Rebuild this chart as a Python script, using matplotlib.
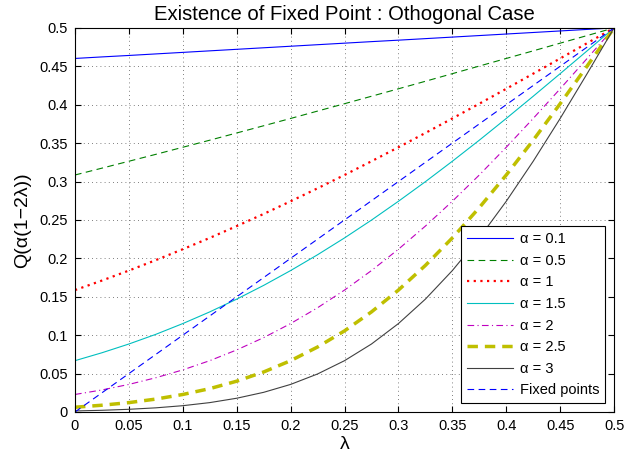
import numpy as np
import matplotlib
matplotlib.use("Agg")
import matplotlib.pyplot as plt

plt.rcParams['font.family'] = ['Liberation Sans', 'DejaVu Sans']

# lambda grid
lam = [0, 0.025, 0.05, 0.075, 0.1, 0.125, 0.15, 0.175, 0.2, 0.225, 0.25,
       0.275, 0.3, 0.325, 0.35, 0.375, 0.4, 0.425, 0.45, 0.475, 0.5]

# curve values
q_01 = [0.4602, 0.4622, 0.4641, 0.4661, 0.4681, 0.4701, 0.4721, 0.4741, 0.4761, 0.4781, 0.4801,
        0.4821, 0.4840, 0.4860, 0.4880, 0.4900, 0.4920, 0.4940, 0.4960, 0.4980, 0.5]
q_05 = [0.3085, 0.3174, 0.3264, 0.3354, 0.3446, 0.3538, 0.3632, 0.3726, 0.3821, 0.3917, 0.4013,
        0.4110, 0.4207, 0.4305, 0.4404, 0.4503, 0.4602, 0.4701, 0.4801, 0.4900, 0.5]
q_1 = [0.1587, 0.1711, 0.1841, 0.1977, 0.2119, 0.2266, 0.2420, 0.2578, 0.2743, 0.2912, 0.3085,
       0.3264, 0.3446, 0.3632, 0.3821, 0.4013, 0.4207, 0.4404, 0.4602, 0.4801, 0.5]
q_15 = [0.0668, 0.0771, 0.0885, 0.1011, 0.1151, 0.1303, 0.1469, 0.1648, 0.1841, 0.2047, 0.2266,
        0.2498, 0.2743, 0.2998, 0.3264, 0.3538, 0.3821, 0.4110, 0.4404, 0.4701, 0.5]
q_2 = [0.0228, 0.0287, 0.0359, 0.0446, 0.0548, 0.0668, 0.0808, 0.0968, 0.1151, 0.1357, 0.1587,
       0.1841, 0.2119, 0.2420, 0.2743, 0.3085, 0.3446, 0.3821, 0.4207, 0.4602, 0.5]
q_25 = [0.0062, 0.0088, 0.0122, 0.0168, 0.0228, 0.0304, 0.0401, 0.0521, 0.0668, 0.0846, 0.1056,
        0.1303, 0.1587, 0.1908, 0.2266, 0.2660, 0.3085, 0.3538, 0.4013, 0.4503, 0.5]
q_3 = [0.00135, 0.0022, 0.0035, 0.0054, 0.0082, 0.0122, 0.0179, 0.0256, 0.0359, 0.0495, 0.0668,
       0.0885, 0.1151, 0.1469, 0.1841, 0.2266, 0.2743, 0.3264, 0.3821, 0.4404, 0.5]

# fixed points line
fp_x = [0, 0.5]
fp_y = [0, 0.5]

tick_vals = [0, 0.05, 0.1, 0.15, 0.2, 0.25, 0.3, 0.35, 0.4, 0.45, 0.5]
tick_labels = ['0', '0.05', '0.1', '0.15', '0.2', '0.25', '0.3', '0.35', '0.4', '0.45', '0.5']

fig = plt.figure(figsize=(6.41, 4.57), dpi=100)
ax = fig.add_axes([0.117, 0.0985, 0.841, 0.8405])

ax.plot(lam, q_01, color='#0000ff', ls='-', lw=0.8, label='α = 0.1')
ax.plot(lam, q_05, color='#008000', ls=(0, (6, 4)), lw=0.8, label='α = 0.5')
ax.plot(lam, q_1, color='#ff0000', ls=(0, (1, 2)), lw=1.6, label='α = 1')
ax.plot(lam, q_15, color='#00bfbf', ls='-', lw=0.8, label='α = 1.5')
ax.plot(lam, q_2, color='#bf00bf', ls=(0, (6, 3, 1, 3)), lw=0.8, label='α = 2')
ax.plot(lam, q_25, color='#bfbf00', ls=(0, (3, 2)), lw=2.5, label='α = 2.5')
ax.plot(lam, q_3, color='#404040', ls='-', lw=0.8, label='α = 3')
ax.plot(fp_x, fp_y, color='#0000ff', ls=(0, (6, 4)), lw=0.8, label='Fixed points')

ax.set_xlim(0, 0.5)
ax.set_ylim(0, 0.5)
ax.set_xticks(tick_vals)
ax.set_yticks(tick_vals)
ax.set_xticklabels(tick_labels)
ax.set_yticklabels(tick_labels)
ax.tick_params(direction='in', top=True, right=True, labelsize=10.5, length=4, pad=5)
ax.grid(color='#555555', ls=(0, (1, 4)), lw=0.6)

ax.set_xlabel('λ', fontsize=14, labelpad=2)
ax.set_ylabel('Q(α(1\u22122λ))', fontsize=14, labelpad=6)
ax.set_title('Existence of Fixed Point : Othogonal Case', fontsize=14.6, pad=6)

leg = ax.legend(loc='lower right', fontsize=10.5, fancybox=False, framealpha=1,
                edgecolor='black', borderaxespad=0.6, handlelength=3.2,
                labelspacing=0.52, handletextpad=0.45, borderpad=0.4)
leg.get_frame().set_linewidth(0.8)

plt.savefig('out.png', dpi=100)
